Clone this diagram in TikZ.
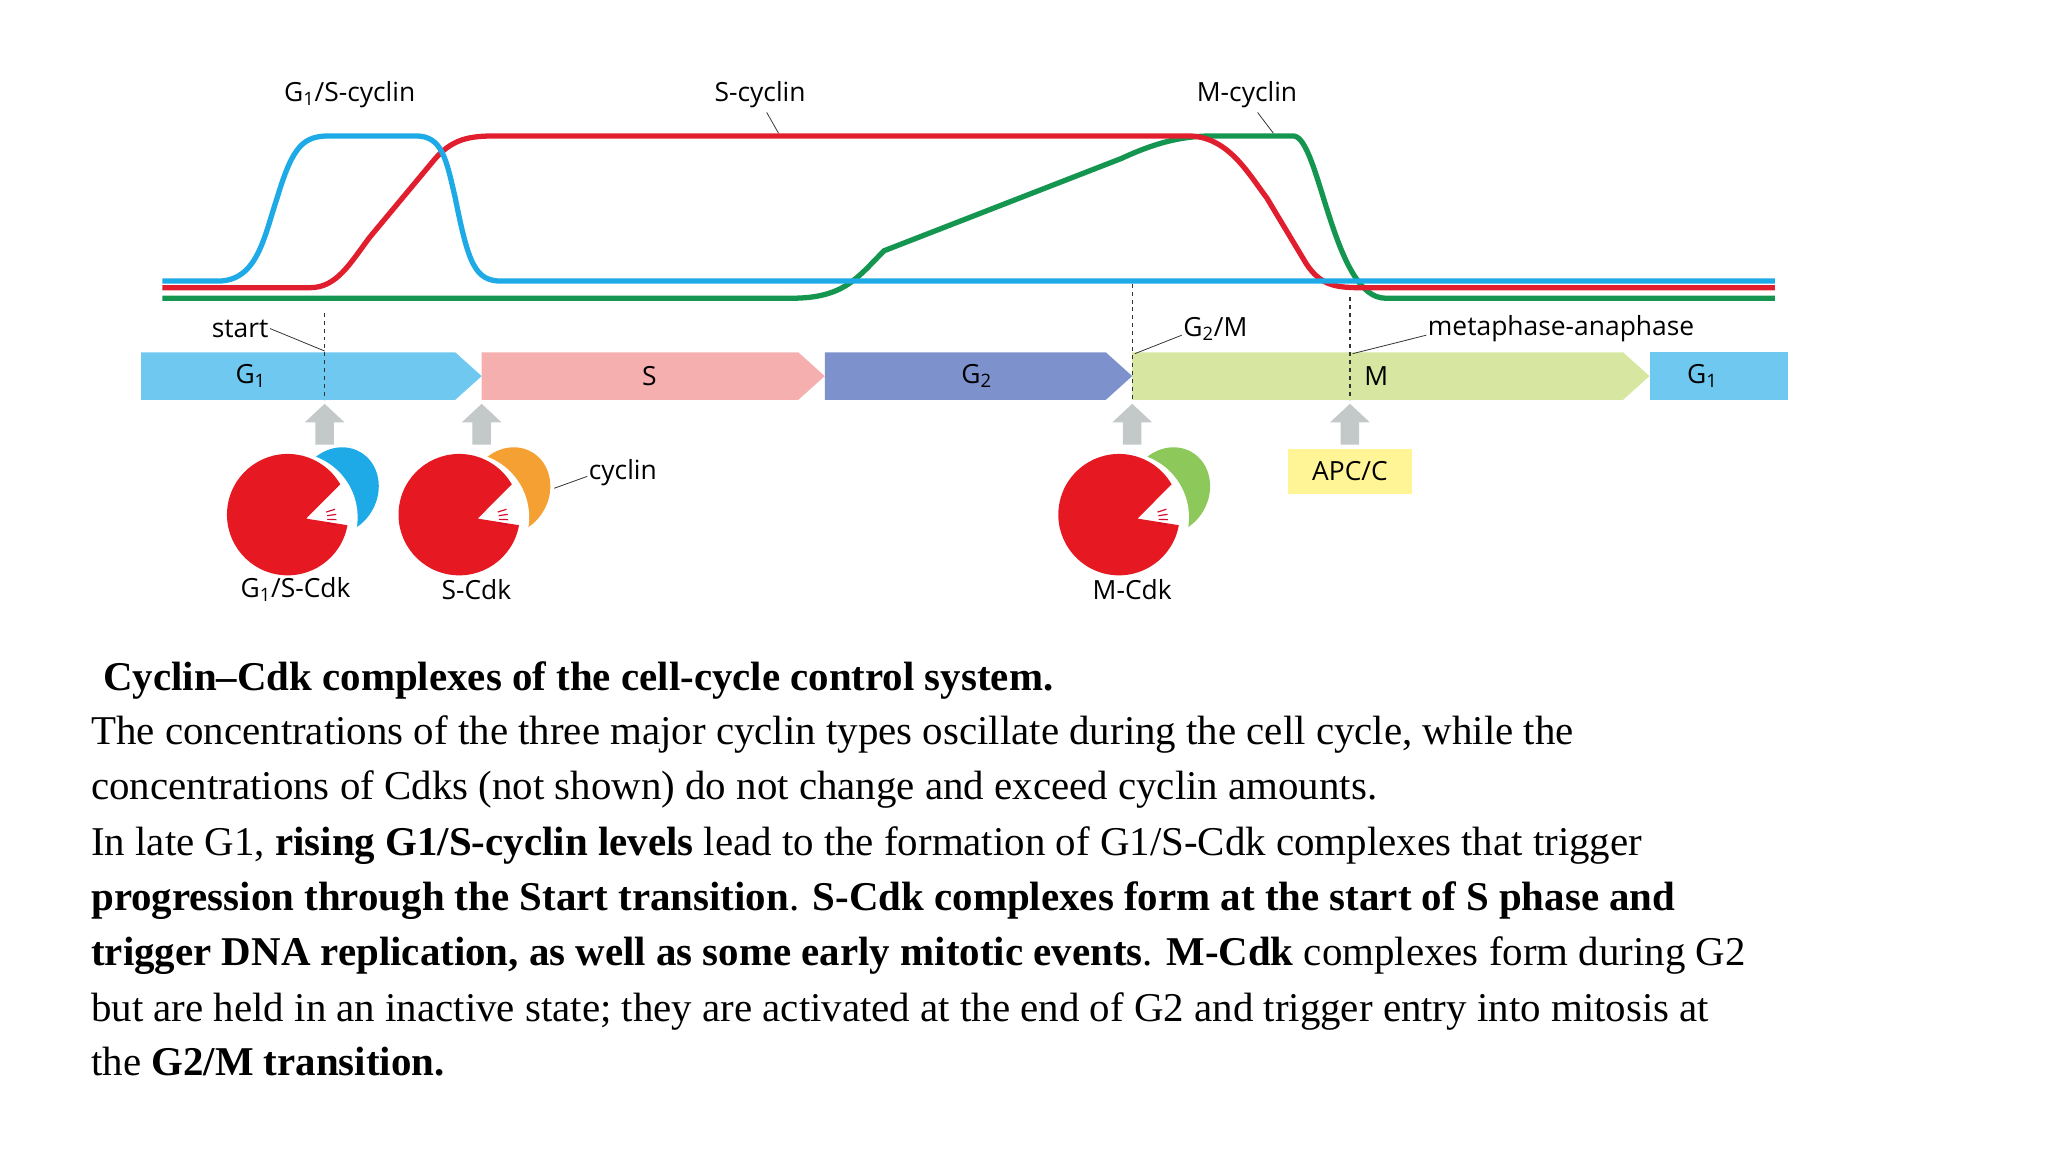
\documentclass[tikz,border=0pt]{standalone}
\usepackage{fontspec}
\usetikzlibrary{calc}
\setmainfont{Liberation Serif}
\newfontfamily\lab{Open Sans}
\definecolor{cblue}{RGB}{30,170,230}
\definecolor{cred}{RGB}{225,30,45}
\definecolor{cgreen}{RGB}{20,150,80}
\definecolor{pG}{RGB}{110,200,240}
\definecolor{pS}{RGB}{245,175,175}
\definecolor{pGt}{RGB}{125,145,205}
\definecolor{pM}{RGB}{215,230,160}
\definecolor{gar}{RGB}{195,200,200}
\definecolor{pac}{RGB}{230,25,35}
\definecolor{cor}{RGB}{245,160,50}
\definecolor{cgr}{RGB}{140,200,90}
\definecolor{apc}{RGB}{255,245,150}
\begin{document}
\begin{tikzpicture}[x=1pt,y=-1pt,
  curve/.style={line width=4pt,line join=round},
  lbl/.style={font=\lab\fontsize{20}{24}\selectfont,inner sep=1pt},
  lead/.style={draw=black!80,line width=0.6pt},
  dsh/.style={dashed,line width=1pt,black!80},
  captxt/.style={anchor=base west,inner sep=0pt,font=\fontsize{31}{36}\selectfont}]
\useasboundingbox (0,0) rectangle (1552,873);
% phase bar
\fill[pG] (107,267) -- (345,267) -- (365,285) -- (345,303) -- (107,303) -- cycle;
\fill[pS] (365,267) -- (605,267) -- (625,285) -- (605,303) -- (365,303) -- cycle;
\fill[pGt] (625,267) -- (838,267) -- (858,285) -- (838,303) -- (625,303) -- cycle;
\fill[pM] (858,267) -- (1230,267) -- (1250,285) -- (1230,303) -- (858,303) -- cycle;
\fill[pG] (1250,267) rectangle (1355,303);
\node[lbl] (pg1) at (190,285) {G\textsubscript{1}};
\node[lbl] (ps) at (492,285) {S};
\node[lbl] (pg2) at (740,285) {G\textsubscript{2}};
\node[lbl] (pm) at (1043,285) {M};
\node[lbl] (pg1b) at (1290,285) {G\textsubscript{1}};
% curves
\draw[curve,cgreen] (123,226) -- (600,226) .. controls (640,226) and (650,210) .. (670,190)
  -- (850,120) .. controls (880,106) and (900,103) .. (920,103) -- (980,103)
  .. controls (1000,103) and (1010,226) .. (1050,226) -- (1345,226);
\draw[curve,cred] (123,218) -- (235,218) .. controls (255,218) and (265,200) .. (280,180)
  -- (330,120) .. controls (345,103) and (360,103) .. (380,103) -- (900,103)
  .. controls (930,103) and (945,130) .. (960,150) -- (990,200) .. controls (1000,215) and (1010,218) .. (1030,218) -- (1345,218);
\draw[curve,cblue] (123,213) -- (165,213) .. controls (195,213) and (200,180) .. (210,150)
  .. controls (222,110) and (230,103) .. (250,103) -- (315,103)
  .. controls (335,103) and (338,120) .. (345,150) .. controls (355,200) and (360,213) .. (380,213) -- (1345,213);
% labels top
\node[lbl] (l1) at (265,72) {G\textsubscript{1}/S-cyclin};
\node[lbl] (l2) at (576,72) {S-cyclin};
\node[lbl] (l3) at (945,72) {M-cyclin};
\coordinate (t2) at (590,101);
\coordinate (t3) at (965,101);
\draw[lead] (l2.south) ++(5,2) -- (t2);
\draw[lead] (l3.south) ++(8,2) -- (t3);
% dashed
\coordinate (d1a) at (246,237); \coordinate (d1b) at (246,303);
\coordinate (d2a) at (858,215); \coordinate (d2b) at (858,303);
\coordinate (d3a) at (1023,225); \coordinate (d3b) at (1023,303);
\draw[dsh] (d1a) -- (d1b);
\draw[dsh] (d2a) -- (d2b);
\draw[dsh] (d3a) -- (d3b);
\node[lbl] (ls) at (182,249) {start};
\node[lbl] (lg2m) at (921,249) {G\textsubscript{2}/M};
\node[lbl] (lma) at (1183,249) {metaphase-anaphase};
\coordinate (e1) at (246,266); \coordinate (e2) at (860,268); \coordinate (e3) at (1025,268);
\draw[lead] (ls.east) -- (e1);
\draw[lead] (lg2m.west) ++(0,5) -- (e2);
\draw[lead] (lma.west) ++(0,5) -- (e3);
% gray arrows
\foreach \x in {246,365,858,1023}{
  \fill[gar] (\x-7,337) -- (\x-7,320) -- (\x-15,320) -- (\x,306) -- (\x+15,320) -- (\x+7,320) -- (\x+7,337) -- cycle;}
% complexes
\foreach \cx/\cc in {218/cblue,348/cor,848/cgr}{
  \fill[\cc,rotate around={-30:(\cx+38,372)}] (\cx+38,372) ellipse (30 and 34);
  \fill[white] (\cx+4,392) circle (49);
  \fill[pac] (\cx+14,393) -- ($(\cx,390)+(10:46)$) arc (10:330:46) -- cycle;
  \foreach \a in {-22,-12,-2,8}{\draw[pac!50!purple,line width=0.9pt] (\cx+14,393) ++(-\a-10:16) -- ++(-\a-10:7);}
}
\node[lbl] (cy) at (472,358) {cyclin};
\coordinate (cye) at (420,370);
\draw[lead] (cy.west) ++(0,3) -- (cye);
\node[lbl] (k1) at (224,447) {G\textsubscript{1}/S-Cdk};
\node[lbl] (k2) at (361,447) {S-Cdk};
\node[lbl] (k3) at (858,447) {M-Cdk};
\node[lbl,fill=apc,minimum width=94,minimum height=34] (apc) at (1023,357) {APC/C};
% caption
\node[captxt] (c1) at (78,523) {\textbf{Cyclin--Cdk complexes of the cell-cycle control system.}};
\node[captxt] (c2) at (69,564) {The concentrations of the three major cyclin types oscillate during the cell cycle, while the};
\node[captxt] (c3) at (69,606) {concentrations of Cdks (not shown) do not change and exceed cyclin amounts.};
\node[captxt] (c4) at (69,648) {In late G1, \textbf{rising G1/S-cyclin levels} lead to the formation of G1/S-Cdk complexes that trigger};
\node[captxt] (c5) at (69,690) {\textbf{progression through the Start transition}. \textbf{S-Cdk complexes form at the start of S phase and}};
\node[captxt] (c6) at (69,732) {\textbf{trigger DNA replication, as well as some early mitotic events}. \textbf{M-Cdk} complexes form during G2};
\node[captxt] (c7) at (69,774) {but are held in an inactive state; they are activated at the end of G2 and trigger entry into mitosis at};
\node[captxt] (c8) at (69,815) {the \textbf{G2/M transition.}};
\end{tikzpicture}
\end{document}
